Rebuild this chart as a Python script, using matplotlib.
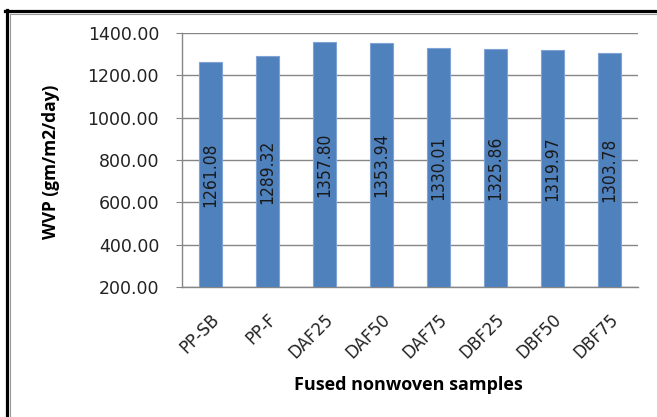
import matplotlib.pyplot as plt
from matplotlib.lines import Line2D

# WVP per fused nonwoven sample
samples = ["PP-SB", "PP-F", "DAF25", "DAF50", "DAF75", "DBF25", "DBF50", "DBF75"]
wvp = [1261.08, 1289.32, 1357.80, 1353.94, 1330.01, 1325.86, 1319.97, 1303.78]
y_ticks = [200, 400, 600, 800, 1000, 1200, 1400]

bar_color = "#4F81BD"
grid_color = "#868686"
y_min, y_max = 200, 1400

fig = plt.figure(figsize=(6.57, 4.17), dpi=100)
ax = fig.add_axes([0.277, 0.312, 0.694, 0.609])

x = range(len(samples))
ax.bar(x, wvp, width=0.4, color=bar_color, edgecolor="#7FA3D4",
       linewidth=0.8, zorder=3)

# value labels sit vertically in the middle of the visible bar
for i, v in enumerate(wvp):
    ax.text(i, (y_min + v) / 2, f"{v:.2f}", rotation=90, ha="center",
            va="center", fontsize=12.5, color="#1a1a1a", zorder=4,
            family=["Liberation Sans Narrow", "DejaVu Sans"],
            fontstretch="condensed")

ax.set_ylim(y_min, y_max)
ax.set_xlim(-0.5, len(samples) - 0.5)
ax.set_yticks(y_ticks)
ax.set_yticklabels([f"{t:.2f}" for t in y_ticks], fontsize=12.5,
                   family="DejaVu Sans", color="#222222")
ax.yaxis.grid(True, color=grid_color, linewidth=1, zorder=0)

ax.set_xticks(list(x))
ax.set_xticklabels(samples, rotation=45, ha="right", va="top",
                   rotation_mode="anchor", fontsize=12,
                   family="DejaVu Sans", color="#222222")

ax.tick_params(axis="y", length=4, color=grid_color, pad=12.5)
ax.tick_params(axis="x", length=0, pad=17)

for side in ["top", "right"]:
    ax.spines[side].set_visible(False)
for side in ["left", "bottom"]:
    ax.spines[side].set_color(grid_color)
    ax.spines[side].set_linewidth(1)

fig.text(51 / 657, 1 - 161.5 / 417, "WVP (gm/m2/day)", rotation=90,
         ha="center", va="center", fontsize=12.5, fontweight="bold",
         family="Open Sans")
fig.text(408.5 / 657, 1 - 385 / 417, "Fused nonwoven samples", ha="center",
         va="center", fontsize=13, fontweight="bold", family="Open Sans")

# outer border: thick black edge with a thin grey line inside
W, H = 657, 417
fig.add_artist(Line2D([5 / W, 1], [1 - 10.7 / H, 1 - 10.7 / H],
                      transform=fig.transFigure, color="black", linewidth=2.3))
fig.add_artist(Line2D([6.5 / W, 6.5 / W], [0, 1 - 9.5 / H],
                      transform=fig.transFigure, color="black", linewidth=2.3))
fig.add_artist(Line2D([10 / W, 1], [1 - 13.5 / H, 1 - 13.5 / H],
                      transform=fig.transFigure, color="#9a9a9a", linewidth=0.8))
fig.add_artist(Line2D([10 / W, 10 / W], [0, 1 - 13.5 / H],
                      transform=fig.transFigure, color="#9a9a9a", linewidth=0.8))

fig.savefig("out.png", dpi=100)
